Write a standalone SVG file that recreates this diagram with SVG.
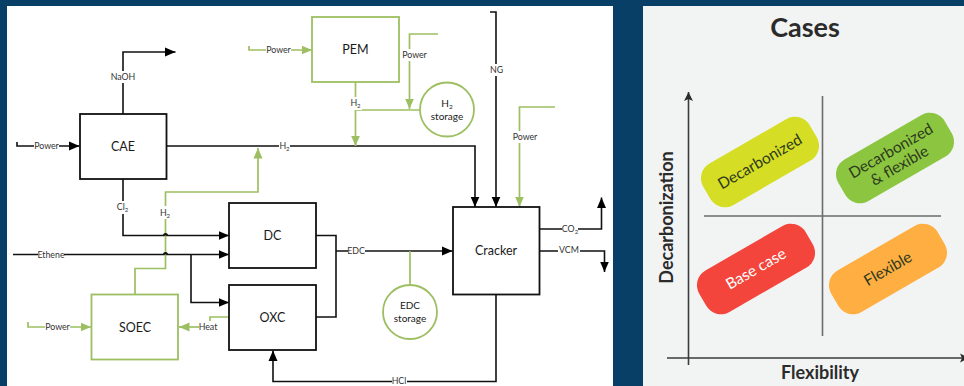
<svg xmlns="http://www.w3.org/2000/svg" width="964" height="386" viewBox="0 0 964 386">
<style>
.box{fill:#fff;stroke:#111;stroke-width:1.8}
.gbox{fill:#fff;stroke:#9dbf62;stroke-width:1.8}
.k{fill:none;stroke:#111;stroke-width:1.6}
.g{fill:none;stroke:#9dbf62;stroke-width:1.7}
.n{font:12.500px Lato,"Liberation Sans",sans-serif;fill:#1a1a1a;text-anchor:middle}
.s{font:10px Lato,"Liberation Sans",sans-serif;fill:#1a1a1a;text-anchor:middle}
.l{font:8.800px Lato,"Liberation Sans",sans-serif;fill:#333;text-anchor:middle}
.bg{fill:#fff}
.ax{stroke:#3b3b3b;stroke-width:1.6;fill:none}
.qd{stroke:#6b6b6b;stroke-width:1.6;fill:none}
.c{font:400 15.500px Lato,"Liberation Sans",sans-serif;fill:#2e3a1e;text-anchor:middle}
.h{font:700 18px Lato,"Liberation Sans",sans-serif;fill:#2b2b2b;text-anchor:middle}
</style>
<defs>
<marker id="ak" markerUnits="userSpaceOnUse" markerWidth="11" markerHeight="10" refX="10.5" refY="5" orient="auto"><path d="M0 .5L10.5 5L0 9.500z" fill="#000"/></marker>
<marker id="ag" markerUnits="userSpaceOnUse" markerWidth="11" markerHeight="10" refX="10.5" refY="5" orient="auto"><path d="M0 .5L10.5 5L0 9.500z" fill="#9dbf62"/></marker>
<marker id="aa" markerUnits="userSpaceOnUse" markerWidth="10" markerHeight="10" refX="9" refY="5" orient="auto"><path d="M0 .5L9 5L0 9.500L2 5z" fill="#2b2b2b"/></marker>
</defs>
<rect width="964" height="386" fill="#083f66"/>
<rect x="7" y="6" width="606" height="380" fill="#fff"/>
<rect x="643" y="6" width="321" height="380" fill="#f2f4f4"/>
<g id="connectors">
<path class="k" d="M123 114V52H175.500" marker-end="url(#ak)"/>
<path class="k" d="M17 142V146H79.500" marker-end="url(#ak)"/>
<path class="k" d="M166 146H475V207" marker-end="url(#ak)"/>
<path class="k" d="M123 179V235.500H229" marker-end="url(#ak)"/>
<path class="k" d="M13 254.500H229" marker-end="url(#ak)"/>
<path class="k" d="M191 254.500V302.500H229" marker-end="url(#ak)"/>
<path class="k" d="M316 235.500H336V317H316"/>
<path class="k" d="M336 251H452.500" marker-end="url(#ak)"/>
<path class="k" d="M490 12H496V207" marker-end="url(#ak)"/>
<path class="k" d="M539 229H601.500V197.500" marker-end="url(#ak)"/>
<path class="k" d="M539 251H604.500V272" marker-end="url(#ak)"/>
<path class="k" d="M496 295V381.500H273V350.500" marker-end="url(#ak)"/>
<path class="g" d="M135 294V268.500H165.500V192H258V148" marker-end="url(#ag)"/>
<path class="g" d="M28 322V327H91" marker-end="url(#ag)"/>
<path class="g" d="M229 317H210V321"/>
<path class="g" d="M200 327H179" marker-end="url(#ag)"/>
<path class="g" d="M249 46V50H312" marker-end="url(#ag)"/>
<path class="g" d="M355.500 82V146" marker-end="url(#ag)"/>
<path class="g" d="M355.500 110H420"/>
<path class="g" d="M438 34H409.500V109" marker-end="url(#ag)"/>
<path class="g" d="M555 107H519.500V207" marker-end="url(#ag)"/>
<path class="g" d="M410 251V285"/>
<path d="M163 235.500a2.500 2.500 0 0 1 5 0zM163 254.500a2.500 2.500 0 0 1 5 0z" fill="#111"/>
<rect class="bg" x="110" y="71" width="26" height="12"/><text class="l" x="123" y="80">NaOH</text>
<rect class="bg" x="34" y="140" width="25" height="12"/><text class="l" x="46.500" y="149">Power</text>
<rect class="bg" x="279" y="140" width="11" height="12"/><text class="l" x="284.500" y="149">H<tspan font-size="6" dy="2">2</tspan></text>
<rect class="bg" x="116" y="201" width="14" height="13"/><text class="l" x="122.500" y="210">Cl<tspan font-size="6" dy="2">2</tspan></text>
<rect class="bg" x="159" y="206" width="13" height="13"/><text class="l" x="165" y="215.500">H<tspan font-size="6" dy="2">2</tspan></text>
<rect class="bg" x="38" y="249" width="26" height="12"/><text class="l" x="51" y="258">Ethene</text>
<rect class="bg" x="45" y="321" width="25" height="12"/><text class="l" x="57.500" y="330">Power</text>
<rect class="bg" x="199" y="321" width="18" height="12"/><text class="l" x="208" y="330">Heat</text>
<rect class="bg" x="266" y="44" width="25" height="12"/><text class="l" x="278.500" y="53">Power</text>
<rect class="bg" x="349" y="97" width="13" height="13"/><text class="l" x="355.500" y="106">H<tspan font-size="6" dy="2">2</tspan></text>
<rect class="bg" x="402" y="49" width="25" height="12"/><text class="l" x="414.500" y="58">Power</text>
<rect class="bg" x="490" y="64" width="13" height="12"/><text class="l" x="496.500" y="73">NG</text>
<rect class="bg" x="512" y="131" width="26" height="12"/><text class="l" x="525" y="140">Power</text>
<rect class="bg" x="348" y="245" width="17" height="12"/><text class="l" x="356" y="254">EDC</text>
<rect class="bg" x="562" y="223" width="16" height="12"/><text class="l" x="570" y="232">CO<tspan font-size="6" dy="2">2</tspan></text>
<rect class="bg" x="558" y="244" width="22" height="12"/><text class="l" x="569" y="253">VCM</text>
<rect class="bg" x="392" y="375" width="15" height="12"/><text class="l" x="399" y="384">HCl</text>
</g>
<g id="CAE"><rect class="box" x="80" y="114" width="86.500" height="65"/><text class="n" x="123" y="150.500">CAE</text></g>
<g id="DC"><rect class="box" x="229" y="203" width="87" height="65"/><text class="n" x="272.500" y="240">DC</text></g>
<g id="OXC"><rect class="box" x="229" y="285" width="87" height="65"/><text class="n" x="272.500" y="321.500">OXC</text></g>
<g id="Cracker"><rect class="box" x="453" y="207" width="86.500" height="87.500"/><text class="n" x="496" y="255">Cracker</text></g>
<g id="PEM"><rect class="gbox" x="312" y="17" width="87" height="65"/><text class="n" x="355.500" y="54">PEM</text></g>
<g id="SOEC"><rect class="gbox" x="91.500" y="294.500" width="86.500" height="65"/><text class="n" x="135" y="331.500">SOEC</text></g>
<g id="H2-storage"><circle class="gbox" cx="447" cy="109.500" r="27"/><text class="s" x="447" y="107">H<tspan font-size="6.500" dy="2">2</tspan></text><text class="s" x="447" y="120">storage</text></g>
<g id="EDC-storage"><circle class="gbox" cx="410" cy="312" r="27"/><text class="s" x="410" y="309">EDC</text><text class="s" x="410" y="322">storage</text></g>
<g id="cases">
<text x="805" y="37" font-family="Lato,'Liberation Sans',sans-serif" font-weight="700" font-size="27" fill="#2b2b2b" text-anchor="middle">Cases</text>
<path class="ax" d="M688.500 365V92" marker-end="url(#aa)"/>
<path class="ax" d="M667 358H969" marker-end="url(#aa)"/>
<path class="qd" d="M822.500 96V336M704 216H941"/>
<text class="h" transform="translate(673 217.500) rotate(-90)">Decarbonization</text>
<text class="h" x="820" y="379">Flexibility</text>
</g>
<g id="Decarbonized" transform="translate(760 162) rotate(-30)"><rect x="-61.500" y="-24" width="123" height="48" rx="17" fill="#d5de24"/><text class="c" y="5">Decarbonized</text></g>
<g id="Decarbonized-flexible" transform="translate(895 158) rotate(-30)"><rect x="-61.500" y="-24" width="123" height="48" rx="17" fill="#8cc641"/><text class="c" y="-3">Decarbonized</text><text class="c" y="14">&amp; flexible</text></g>
<g id="Base-case" transform="translate(756 269) rotate(-30)"><rect x="-61.500" y="-24" width="123" height="48" rx="17" fill="#f3453c"/><text class="c" y="5" style="fill:#fff">Base case</text></g>
<g id="Flexible" transform="translate(888 269) rotate(-30)"><rect x="-61.500" y="-24" width="123" height="48" rx="17" fill="#ffae42"/><text class="c" y="5">Flexible</text></g>
</svg>
